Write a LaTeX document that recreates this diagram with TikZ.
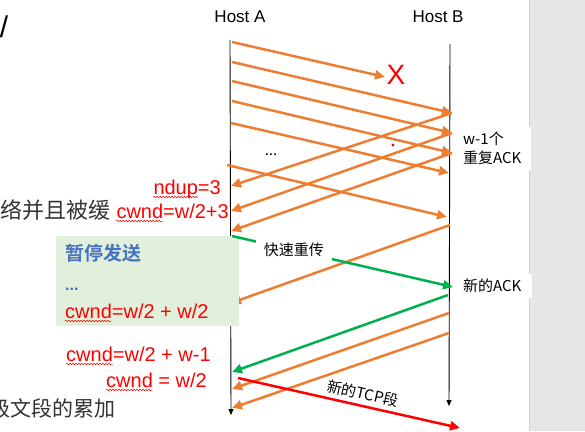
\documentclass[tikz,border=0pt]{standalone}
\usepackage{fontspec}
\setmainfont{Liberation Sans}
\newfontfamily\cjk[BoldFont={Noto Sans CJK SC Bold}]{Noto Sans CJK SC}
\usepackage{xcolor}
\usetikzlibrary{arrows.meta,positioning,decorations.pathmorphing}
\definecolor{segorange} {RGB}{237,125, 49}
\definecolor{ackgreen}  {RGB}{  0,176, 80}
\definecolor{boxgreen}  {RGB}{226,239,218}
\definecolor{pauseblue} {RGB}{ 68,114,196}
\definecolor{panelgray} {RGB}{230,230,230}

\begin{document}
\begin{tikzpicture}[x=1pt,y=-1pt,
    seg/.style={segorange, line width=2.5pt, -{Triangle[length=10pt,width=9pt]}},
    lifeline/.style={line width=0.9pt, -{Triangle[length=6pt,width=5pt]}},
    redtxt/.style={red, font=\fontsize{20}{24}\selectfont, inner sep=0pt},
    cjktxt/.style={text=black, font=\cjk\fontsize{15}{19}\selectfont, inner sep=0pt},
    tagbox/.style={cjktxt, fill=white, anchor=north west, align=left, inner xsep=3pt, inner ysep=5pt},
    spell/.style={red, line width=0.5pt, decorate, decoration={snake, amplitude=0.8pt, segment length=3pt}}]
  \useasboundingbox (0,0) rectangle (585,431);
  \fill[panelgray] (529,0) rectangle (585,431);
  \draw[black!18] (529,0) -- (529,431);

  % hosts
  \coordinate (atop) at (230,40);
  \coordinate (abot) at (231,415);
  \coordinate (btop) at (450,44);
  \coordinate (bbot) at (449,406);
  \node[font=\fontsize{17}{17}\selectfont] (hosta) at (240,17) {Host A};
  \node[font=\fontsize{17}{17}\selectfont, right=140pt of hosta] (hostb) {Host B};
  \draw[lifeline] (atop) -- (abot);
  \draw[lifeline] (btop) -- (bbot);

  % points on the two lines
  \foreach \n/\x/\y in {1/232/42, 2/232/62, 3/232/81, 4/232/101, 5/231/123, 6/227/165,
                        7/231/186, 8/231/211, 9/231/231, 10/231/303, 11/232/236,
                        12/232/372, 13/232/389, 14/232/408, 15/238/378}
    \coordinate (a\n) at (\x,\y);
  \foreach \n/\x/\y in {2/452/113, 3/452/133, 4/452/153, 5/449/173, 6/447/217,
                        10/450/225, 11/453/287, 12/448/295, 13/449/313, 14/449/333, 15/460/428}
    \coordinate (b\n) at (\x,\y);
  \coordinate (lost) at (385,77);

  % window of segments and the duplicate acks
  \draw[seg] (a1) -- (lost);
  \node[red, font=\fontsize{28}{28}\selectfont, inner sep=0pt] (cross) at (396,75) {X};
  \foreach \i in {2,...,6}
    \draw[seg] (a\i) -- (b\i);
  \foreach \i/\j in {2/7,3/8,4/9}
    \draw[seg] (b\i) -- (a\j);
  \draw[seg] (b10) -- (a10);
  \fill[red] (393,145) circle (1.7pt);
  \node[cjktxt] (gap) at (271,155) {...};

  \node[tagbox, text width=65pt] (dupack) at (460,127) {w-1个\\重复ACK};
  \node[redtxt, anchor=base east] (ndup) at (221,194) {ndup=3};
  \node[redtxt, anchor=base east] (cwndup) at (229,218) {cwnd=w/2+3};

  % sender pauses
  \node[fill=boxgreen, minimum width=183pt, minimum height=90pt, inner sep=0pt,
        anchor=north west] (pause) at (56,236) {};
  \node[font=\cjk\bfseries\fontsize{19}{19}\selectfont, text=pauseblue, inner sep=0pt,
        anchor=west] (pausetitle) at (65,253) {暂停发送};
  \node[font=\bfseries\fontsize{16}{16}\selectfont, text=pauseblue, inner sep=0pt,
        anchor=base west] (pausedots) at (65,290) {...};
  \node[redtxt, anchor=base west] (cwndfull) at (65,318) {cwnd=w/2 + w/2};

  % fast retransmit and the new ack
  \draw[seg, ackgreen] (a11) -- node[cjktxt, pos=.28, fill=white, inner xsep=8pt,
        minimum height=22pt] (retx) {快速重传} (b11);
  \node[tagbox, text width=66pt, anchor=north west] (newack) at (460,274) {新的ACK};
  \draw[seg, ackgreen] (b12) -- (a12);
  \draw[seg] (b13) -- (a13);
  \draw[seg] (b14) -- (a14);
  \draw[seg, red] (a15) -- node[cjktxt, sloped, above=4pt, pos=.55] (newtcp) {新的TCP段} (b15);

  \node[redtxt, anchor=base west] (cwndmore) at (66,361) {cwnd=w/2 + w-1};
  \node[redtxt, anchor=base west] (cwndhalf) at (106,387) {cwnd = w/2};

  % spell-check marks
  \draw[spell] ([yshift=-3pt]ndup.base west) -- ++(44.5,0);
  \foreach \w in {cwndup,cwndfull,cwndmore,cwndhalf}
    \draw[spell] ([yshift=-3pt]\w.base west) -- ++(46.7,0);

  % slide text cut off at the left
  \node[font=\fontsize{30}{30}\selectfont, inner sep=0pt] (slash) at (4,27) {/};
  \node[font=\cjk\fontsize{22}{22}\selectfont, text=black!80, inner sep=0pt,
        anchor=east] (cuttop) at (111,210) {络并且被缓};
  \node[font=\cjk\fontsize{21}{21}\selectfont, text=black!80, inner sep=0pt,
        anchor=east] (cutbot) at (116,408) {级文段的累加};
\end{tikzpicture}
\end{document}
